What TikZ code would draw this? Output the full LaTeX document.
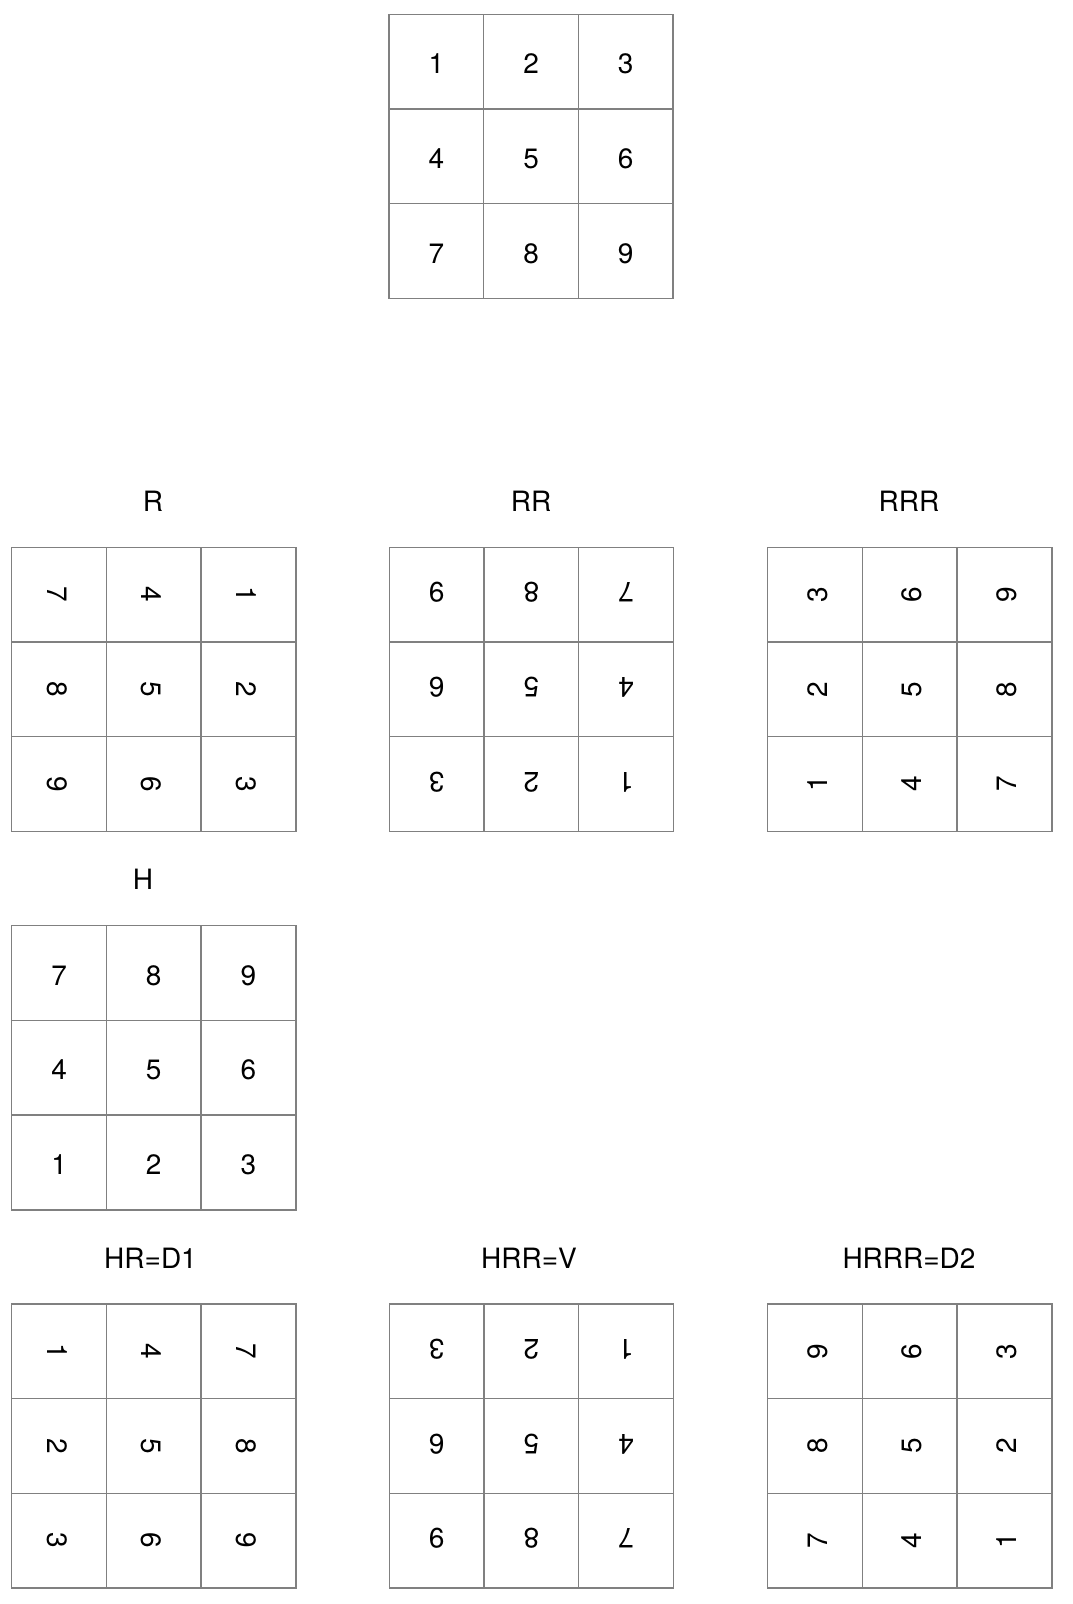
\documentclass[tikz,border=0pt]{standalone}
\usepackage{fontspec}
\setmainfont{TeX Gyre Heros}
\definecolor{gridgray}{HTML}{808080}
\tikzset{
  cell/.style={draw=gridgray, line width=1.5pt, minimum size=94.7pt, inner sep=0pt,
    text height=24pt, text depth=0pt, font=\fontsize{28}{34}\selectfont},
  gridtitle/.style={font=\fontsize{28}{34}\selectfont, inner sep=0pt}
}
\newcommand\drawgrid[5]{%
  \foreach \gd [count=\gi from 0] in {#5} {
    \pgfmathtruncatemacro\grow{int(\gi/3)}
    \pgfmathtruncatemacro\gcol{mod(\gi,3)}
    \node[cell, rotate=#4] (#1-\gi) at ({#2+(\gcol+0.5)*94.7}, {#3+(\grow+0.5)*94.7}) {\gd};
  }%
}
\begin{document}
\begin{tikzpicture}[x=1pt,y=-1pt]
\useasboundingbox[fill=white] (0,0) rectangle (1072,1604);
% original
\drawgrid{O}{389}{14.3}{0}{1,2,3,4,5,6,7,8,9}
% R row
\node[gridtitle] (tR) at (153,501) {R};
\drawgrid{R}{11.7}{547.3}{-90}{7,4,1,8,5,2,9,6,3}
\node[gridtitle] (tRR) at (531,501) {RR};
\drawgrid{RR}{389.3}{547.3}{180}{9,8,7,6,5,4,3,2,1}
\node[gridtitle] (tRRR) at (909,501) {RRR};
\drawgrid{RRR}{767.7}{547.3}{90}{3,6,9,2,5,8,1,4,7}
% H
\node[gridtitle] (tH) at (143,879) {H};
\drawgrid{H}{11.7}{925.7}{0}{7,8,9,4,5,6,1,2,3}
% bottom row
\node[gridtitle] (tHR) at (150.5,1258) {HR=D1};
\drawgrid{HR}{11.7}{1304}{-90}{1,4,7,2,5,8,3,6,9}
\node[gridtitle] (tHRR) at (529,1258) {HRR=V};
\drawgrid{HRR}{389.3}{1304}{180}{3,2,1,6,5,4,9,8,7}
\node[gridtitle] (tHRRR) at (909,1258) {HRRR=D2};
\drawgrid{HRRR}{767.7}{1304}{90}{9,6,3,8,5,2,7,4,1}
\end{tikzpicture}
\end{document}
